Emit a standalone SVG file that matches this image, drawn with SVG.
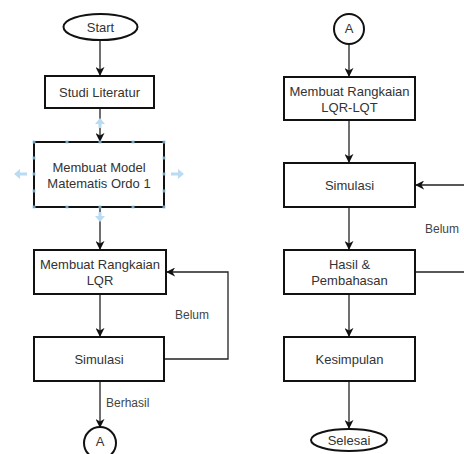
<svg xmlns="http://www.w3.org/2000/svg" width="464" height="454" viewBox="0 0 464 454">
<defs>
<style>
.box{fill:#fff;stroke:#111;stroke-width:2}
.term{fill:#fff;stroke:#111;stroke-width:2}
.t{font-family:"Liberation Sans",Arial,sans-serif;font-size:13px;fill:#333;text-anchor:middle;dominant-baseline:central}
.lbl{font-family:"Liberation Sans",Arial,sans-serif;font-size:12px;fill:#444;dominant-baseline:central}
.c{fill:none;stroke:#222;stroke-width:1.3}
.h{fill:#8cc8ea;opacity:0.8}
.ha{fill:#b9dcf2}
</style>
<marker id="ah" viewBox="0 0 10 10" refX="9" refY="5" markerWidth="9" markerHeight="9" markerUnits="userSpaceOnUse" orient="auto">
<path d="M0,0 L10,5 L0,10 L3,5 Z" fill="#111"/>
</marker>
</defs>
<rect width="464" height="454" fill="#fff"/>

<g id="connectors">
<line class="c" x1="100" y1="40" x2="100" y2="75" marker-end="url(#ah)"/>
<line class="c" x1="100" y1="108" x2="100" y2="141" marker-end="url(#ah)"/>
<line class="c" x1="100" y1="208" x2="100" y2="249" marker-end="url(#ah)"/>
<line class="c" x1="100" y1="294" x2="100" y2="336" marker-end="url(#ah)"/>
<line class="c" x1="100" y1="381" x2="100" y2="427" marker-end="url(#ah)"/>
<polyline class="c" points="164,359 228,359 228,272 167,272" marker-end="url(#ah)"/>
<line class="c" x1="349" y1="44" x2="349" y2="76" marker-end="url(#ah)"/>
<line class="c" x1="349" y1="120" x2="349" y2="162" marker-end="url(#ah)"/>
<line class="c" x1="349" y1="207" x2="349" y2="249" marker-end="url(#ah)"/>
<line class="c" x1="349" y1="294" x2="349" y2="336" marker-end="url(#ah)"/>
<line class="c" x1="349" y1="381" x2="349" y2="428" marker-end="url(#ah)"/>
<polyline class="c" points="415,272 466,272 466,185 416,185" marker-end="url(#ah)"/>
<text class="lbl" x="175" y="315">Belum</text>
<text class="lbl" x="106" y="403">Berhasil</text>
<text class="lbl" x="425" y="229">Belum</text>
</g>

<g id="start">
<ellipse class="term" cx="100.5" cy="27" rx="37" ry="13"/>
<text class="t" x="100.5" y="27">Start</text>
</g>
<g id="studi">
<rect class="box" x="45" y="76" width="109" height="32"/>
<text class="t" x="99.5" y="92">Studi Literatur</text>
</g>
<g id="model">
<rect class="box" x="34" y="142" width="130" height="65"/>
<text class="t" x="99" y="167">Membuat Model</text>
<text class="t" x="99" y="183">Matematis Ordo 1</text>
<g id="handles">
<rect class="h" x="32.5" y="140.5" width="3" height="3"/><rect class="h" x="65.5" y="140.5" width="3" height="3"/><rect class="h" x="98.5" y="140.5" width="3" height="3"/><rect class="h" x="131.5" y="140.5" width="3" height="3"/><rect class="h" x="162.5" y="140.5" width="3" height="3"/>
<rect class="h" x="32.5" y="205.5" width="3" height="3"/><rect class="h" x="65.5" y="205.5" width="3" height="3"/><rect class="h" x="98.5" y="205.5" width="3" height="3"/><rect class="h" x="131.5" y="205.5" width="3" height="3"/><rect class="h" x="162.5" y="205.5" width="3" height="3"/>
<rect class="h" x="32.5" y="156.5" width="3" height="3"/><rect class="h" x="32.5" y="172.5" width="3" height="3"/><rect class="h" x="32.5" y="189.5" width="3" height="3"/>
<rect class="h" x="162.5" y="156.5" width="3" height="3"/><rect class="h" x="162.5" y="172.5" width="3" height="3"/><rect class="h" x="162.5" y="189.5" width="3" height="3"/>
<path class="ha" d="M14,174 L20,169 L20,172.5 L27,172.5 L27,175.5 L20,175.5 L20,179 Z"/>
<path class="ha" d="M184,174 L178,169 L178,172.5 L171,172.5 L171,175.5 L178,175.5 L178,179 Z"/>
<path class="ha" d="M100,118 L95,124 L98.5,124 L98.5,128 L101.5,128 L101.5,124 L105,124 Z"/>
<path class="ha" d="M100,222 L95,216 L98.5,216 L98.5,212 L101.5,212 L101.5,216 L105,216 Z"/>
</g>
</g>
<g id="rangkaian-lqr">
<rect class="box" x="34" y="250" width="132" height="44"/>
<text class="t" x="100" y="264">Membuat Rangkaian</text>
<text class="t" x="100" y="280">LQR</text>
</g>
<g id="simulasi1">
<rect class="box" x="34" y="337" width="130" height="44"/>
<text class="t" x="99" y="359">Simulasi</text>
</g>
<g id="connector-a1">
<circle class="term" cx="100" cy="443" r="16"/>
<text class="t" x="100" y="441">A</text>
</g>

<g id="connector-a2">
<circle class="term" cx="349" cy="29" r="15"/>
<text class="t" x="349" y="28">A</text>
</g>
<g id="rangkaian-lqt">
<rect class="box" x="284" y="77" width="131" height="43"/>
<text class="t" x="349.5" y="91">Membuat Rangkaian</text>
<text class="t" x="349.5" y="107">LQR-LQT</text>
</g>
<g id="simulasi2">
<rect class="box" x="284" y="163" width="131" height="44"/>
<text class="t" x="349.5" y="185">Simulasi</text>
</g>
<g id="hasil">
<rect class="box" x="284" y="250" width="131" height="44"/>
<text class="t" x="349.5" y="264">Hasil &amp;</text>
<text class="t" x="349.5" y="280">Pembahasan</text>
</g>
<g id="kesimpulan">
<rect class="box" x="284" y="337" width="131" height="44"/>
<text class="t" x="349.5" y="359">Kesimpulan</text>
</g>
<g id="selesai">
<ellipse class="term" cx="349" cy="440" rx="38" ry="11"/>
<text class="t" x="349" y="440">Selesai</text>
</g>
</svg>
